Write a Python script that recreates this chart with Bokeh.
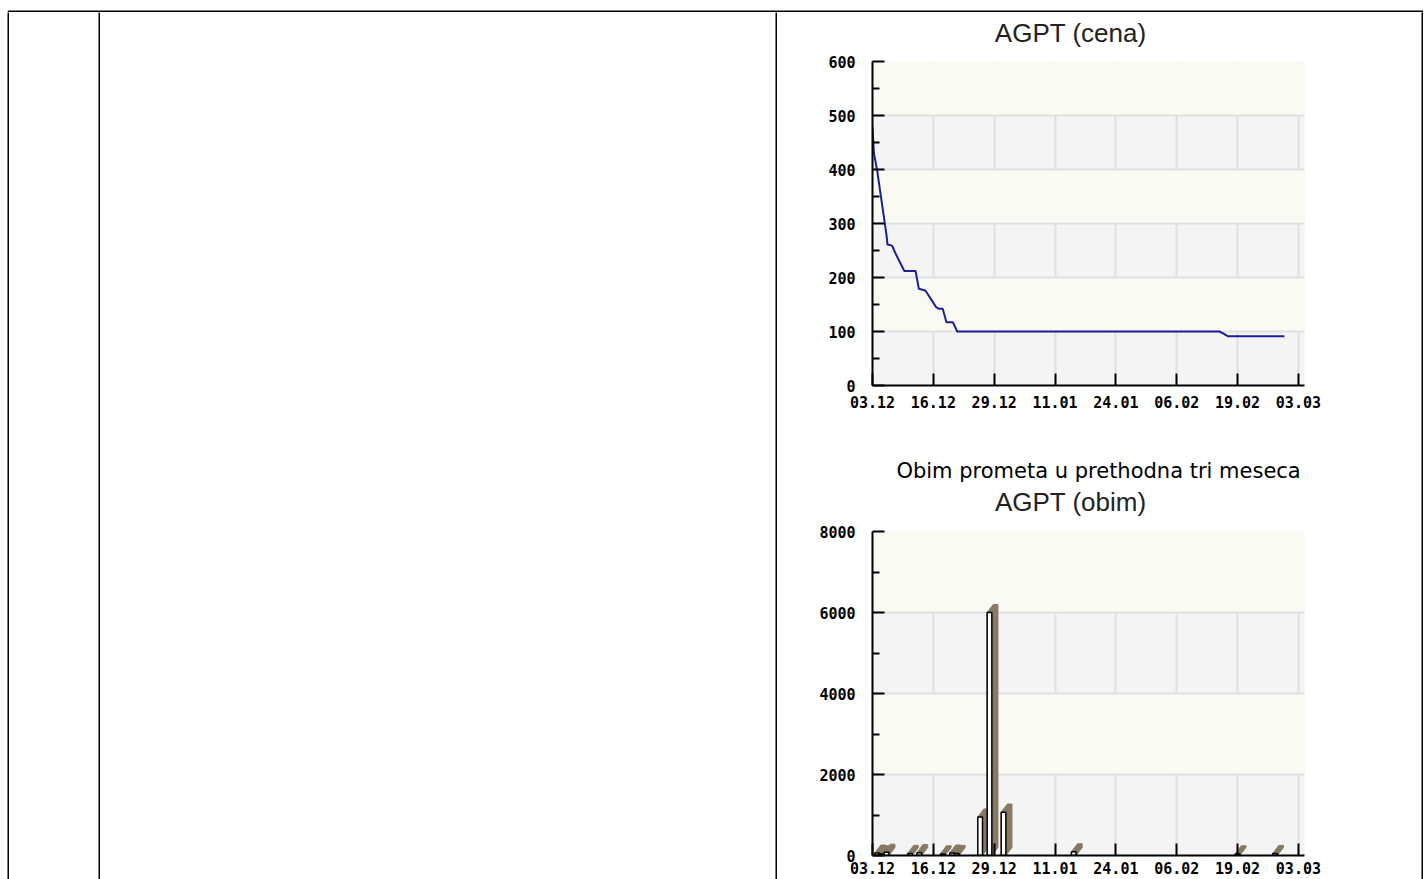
from bokeh.plotting import figure
from bokeh.layouts import row, column
from bokeh.models import Range1d, FixedTicker, Spacer
from bokeh.embed import file_html
from bokeh.resources import INLINE
from bokeh.core.properties import value

# ---------------- data ----------------
tick_days = [0, 13, 26, 39, 52, 65, 78, 91]
tick_labels = ["03.12", "16.12", "29.12", "11.01", "24.01", "06.02", "19.02", "03.03"]

price_day = [0, 0.3, 1, 2, 3, 3.2, 4.2, 5, 6, 6.8, 9.2, 9.9, 11.3, 12.5, 13.6,
             14.2, 15, 15.8, 17.2, 18.1, 74.1, 74.8, 76, 88]
price_value = [478, 430, 398, 338, 278, 261, 259, 243, 226, 212, 212, 179, 176,
               160, 145, 142, 142, 117, 117, 100, 100, 97, 91, 91]

volume_day = [1, 2, 3, 8, 10, 15, 17, 18, 23, 25, 28, 43, 78, 86]
volume_value = [60, 40, 80, 50, 70, 40, 60, 50, 950, 6000, 1070, 90, 40, 50]

price_ticks = [0, 100, 200, 300, 400, 500, 600]
volume_ticks = [0, 2000, 4000, 6000, 8000]

title_price = "AGPT (cena)"
title_volume = "AGPT (obim)"
caption = "Obim prometa u prethodna tri meseca"

# ---------------- style ----------------
CREAM = "#fafaf4"
GREY = "#f4f4f4"
GRID = "#e0e0e0"
BROWN = "#877965"
LINE = "#1e1e96"
XMAX = 92.3
W = 644          # width of the right-hand cell
LB = 95          # left border -> frame starts at page x = 872


def chart(height, ymax, yticks, minor_step, top_b, bottom_b, xstand):
    p = figure(width=W, height=height, x_range=Range1d(0, XMAX), y_range=Range1d(0, ymax),
               min_border_left=LB, min_border_right=W - LB - 432, min_border_top=top_b,
               min_border_bottom=bottom_b, output_backend="svg", toolbar_location=None,
               title_location=None,
               background_fill_color=GREY, border_fill_color="white",
               outline_line_color=None)
    minor = [v for v in range(0, ymax + 1, minor_step) if v not in yticks]
    p.xaxis.ticker = FixedTicker(ticks=tick_days, minor_ticks=[])
    p.yaxis.ticker = FixedTicker(ticks=yticks, minor_ticks=minor)
    p.xaxis.major_label_overrides = dict(zip(tick_days, tick_labels))
    p.xgrid.ticker = FixedTicker(ticks=tick_days)
    p.ygrid.ticker = FixedTicker(ticks=yticks)
    for g in (p.xgrid, p.ygrid):
        g.grid_line_color = GRID
        g.grid_line_width = 2
    p.ygrid.band_fill_color = CREAM
    p.ygrid.band_fill_alpha = 1.0
    for ax in (p.xaxis, p.yaxis):
        ax.axis_line_color = "black"
        ax.axis_line_width = 2
        ax.major_tick_line_color = "black"
        ax.major_tick_line_width = 2
        ax.major_tick_in = 12
        ax.major_tick_out = 0
        ax.minor_tick_line_color = "black"
        ax.minor_tick_line_width = 2
        ax.minor_tick_in = 7
        ax.minor_tick_out = 0
        ax.major_label_text_font = "DejaVu Sans Mono"
        ax.major_label_text_font_style = "bold"
        ax.major_label_text_color = "black"
        ax.major_label_text_font_size = "15px"
    p.yaxis.major_label_standoff = 17
    p.xaxis.major_label_standoff = xstand
    return p


def head(width, height):
    return figure(width=width, height=height, x_range=Range1d(0, width),
                  y_range=Range1d(0, height),
                  min_border=0, x_axis_type=None, y_axis_type=None, output_backend="svg",
                  toolbar_location=None, title_location=None, outline_line_color=None,
                  background_fill_color="white", border_fill_color="white")


def solid(w, h):
    return figure(width=w, height=h, min_border=0, x_axis_type=None, y_axis_type=None,
                  output_backend="svg", toolbar_location=None, title_location=None,
                  outline_line_color=None,
                  background_fill_color="black", border_fill_color="black")


# header 1 (page y 12..48)
h1 = head(W, 36)
h1.text(x=[295.5], y=[16], text=[title_price], text_font=value("Liberation Sans"),
        text_font_size="26px", text_color="#222222", text_align="center",
        text_baseline="middle")

# price chart (page y 48..445, frame 61..385)
p1 = chart(397, 600, price_ticks, 50, 13, 60, 10)
p1.line(price_day, price_value, line_color=LINE, line_width=2)

# header 2 (page y 445..521)
h2 = head(W, 76)
h2.text(x=[337], y=[51], text=[caption], text_font=value("DejaVu Sans"),
        text_font_size="21px", text_color="black", text_align="center",
        text_baseline="middle")
h2.text(x=[295.5], y=[19.5], text=[title_volume], text_font=value("Liberation Sans"),
        text_font_size="26px", text_color="#222222", text_align="center",
        text_baseline="middle")

# volume chart (page y 521..879, frame 531..855), 3D style bars
p2 = chart(358, 8000, volume_ticks, 1000, 10, 24, 6)
bw = 1.0
ddx = 1.3
ddy = 200
left = [d - bw / 2 for d in volume_day]
right = [d + bw / 2 for d in volume_day]
xs = [[l, r, r + ddx, r + ddx, l + ddx, l] for l, r in zip(left, right)]
ys = [[0, 0, ddy, v + ddy, v + ddy, v] for v in volume_value]
p2.patches(xs, ys, fill_color=BROWN, line_color=BROWN, line_width=1)
p2.quad(left=left, right=right, bottom=0, top=volume_value,
        fill_color="white", line_color="black", line_width=1.5)

# table frame: top border (page y 10..11) drawn in a 12 px high strip
TW = 1416
top_strip = head(TW, 12)
top_strip.quad(left=[0], right=[TW], bottom=[0], top=[2], fill_color="black",
               line_color=None)

H = 867
right_col = column(h1, p1, h2, p2)
body = row(Spacer(width=7, height=H), solid(2, H), Spacer(width=89, height=H), solid(2, H),
           Spacer(width=675, height=H), solid(2, H), right_col, solid(2, H))
top_line = row(Spacer(width=7, height=12), top_strip)
page = column(top_line, body)

open("out.html", "w").write(file_html(page, INLINE))
